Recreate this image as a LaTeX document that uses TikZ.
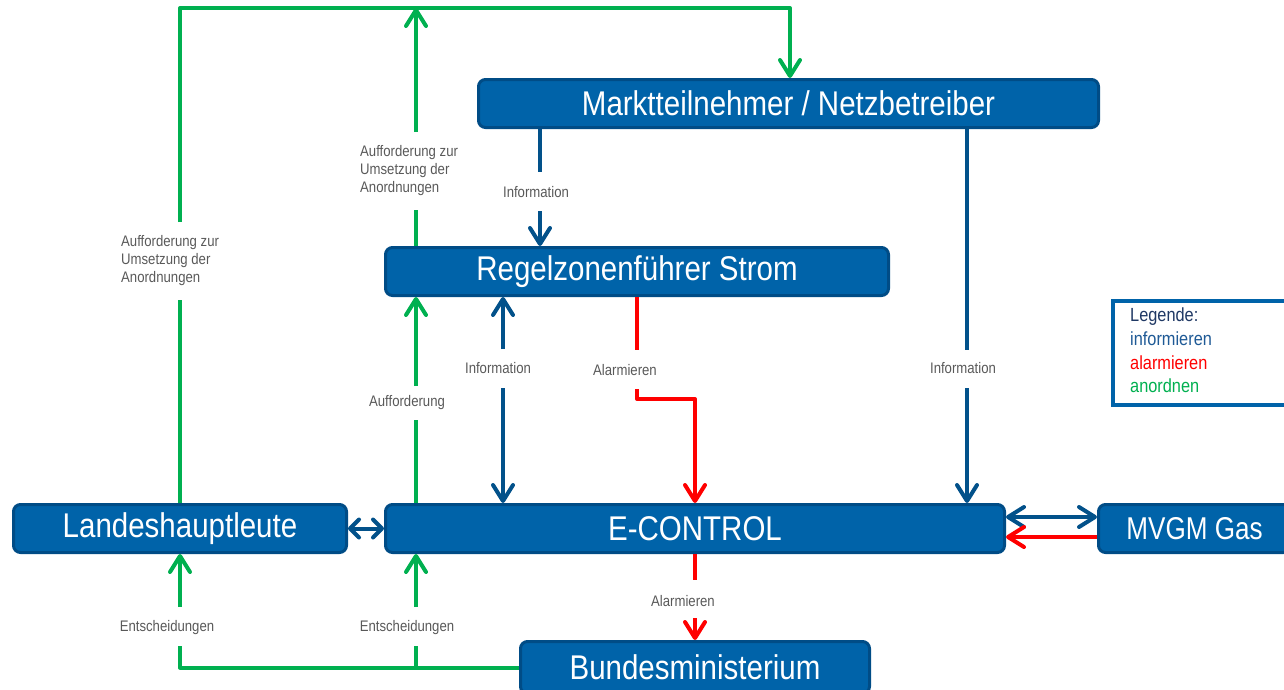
\documentclass[tikz,border=0pt]{standalone}
\usepackage{fontspec}
\setmainfont{Liberation Sans}
\usetikzlibrary{arrows.meta}
\definecolor{boxfill}{HTML}{0063A9}
\definecolor{boxline}{HTML}{004C86}
\definecolor{infoblue}{HTML}{02518A}
\definecolor{alarmred}{HTML}{FF0000}
\definecolor{ordgreen}{HTML}{00B050}
\definecolor{lblgray}{HTML}{595959}
\definecolor{legnavy}{HTML}{1F3864}
\definecolor{leginfo}{HTML}{1F5A96}
\newcommand\sqz[1]{\scalebox{0.86}[1]{#1}}
\newcommand\sqb[1]{\scalebox{0.86}[1]{#1}}
\tikzset{
  box/.style={draw=boxline, line width=3pt, fill=boxfill, rounded corners=7pt,
    minimum height=48pt, inner sep=0pt, text=white, font=\fontsize{34.3}{40}\selectfont},
  lbl/.style={text=lblgray, font=\fontsize{15.3}{18}\selectfont, inner sep=0pt},
  con/.style={line width=4pt, line join=round},
  info/.style={con, draw=infoblue},
  alarm/.style={con, draw=alarmred},
  order/.style={con, draw=ordgreen},
  tip/.style={-{Straight Barb[length=16pt,width=20pt,round]}},
}
\begin{document}
\begin{tikzpicture}[x=1pt,y=-1pt]
\useasboundingbox (0,0) rectangle (1284,689);

% boxes
\node[box, minimum width=620pt] (mt) at (788.5,103.5) {\sqb{Marktteilnehmer / Netzbetreiber}};
\node[box, minimum width=503pt] (rz) at (637,271.5) {\sqb{Regelzonenführer Strom}};
\node[box, minimum width=333pt] (lh) at (180,528.5) {\sqb{Landeshauptleute}};
\node[box, minimum width=619pt] (ec) at (695,528.5) {\sqb{E-CONTROL}};
\node[box, minimum width=192pt] (mv) at (1194.5,528.5) {\scalebox{0.76}[0.92]{MVGM Gas}};
\node[box, minimum width=349pt, minimum height=52pt] (bm) at (695,667.5) {\sqb{Bundesministerium}};

% legend
\node[draw=boxfill, line width=4pt, fill=white, minimum width=184pt, minimum height=104pt,
  anchor=north west, inner sep=0pt] (leg) at (1111,299) {};
\node[anchor=west, inner sep=0pt, font=\fontsize{19}{23.7}\selectfont] (legtxt) at (1130,352.5)
  {\sqz{\begin{tabular}{@{}l@{}}\textcolor{legnavy}{Legende:}\\\textcolor{leginfo}{informieren}\\
  \textcolor{alarmred}{alarmieren}\\\textcolor{ordgreen}{anordnen}\end{tabular}}};

% labels
\node[lbl, anchor=west] (l1) at (360,171) {\sqz{\begin{tabular}{@{}l@{}}Aufforderung zur\\Umsetzung der\\Anordnungen\end{tabular}}};
\node[lbl, anchor=west] (l2) at (121,261) {\sqz{\begin{tabular}{@{}l@{}}Aufforderung zur\\Umsetzung der\\Anordnungen\end{tabular}}};
\node[lbl] (l3) at (536,192) {\sqz{Information}};
\node[lbl] (l4) at (498,368) {\sqz{Information}};
\node[lbl] (l5) at (625,370) {\sqz{Alarmieren}};
\node[lbl] (l6) at (407,403) {\sqz{Aufforderung}};
\node[lbl] (l7) at (963,368) {\sqz{Information}};
\node[lbl] (l8) at (683,601) {\sqz{Alarmieren}};
\node[lbl] (l9) at (167,628) {\sqz{Entscheidungen}};
\node[lbl] (l10) at (407,628) {\sqz{Entscheidungen}};

% helper coordinates
\coordinate (cA) at (180,8);
\coordinate (cB) at (790,8);
\coordinate (g1a) at (180,300); \coordinate (g1b) at (180,222);
\coordinate (g2a) at (416,210); \coordinate (g2b) at (416,132);
\coordinate (i1a) at (540,172); \coordinate (i1b) at (540,211);
\coordinate (i2a) at (503,349); \coordinate (i2b) at (503,388);
\coordinate (a1a) at (637,350); \coordinate (a1b) at (637,389); \coordinate (a1c) at (695,399);
\coordinate (o3a) at (416,420); \coordinate (o3b) at (416,386);
\coordinate (i3a) at (967,350); \coordinate (i3b) at (967,388);
\coordinate (e1a) at (180,646); \coordinate (e1b) at (180,607);
\coordinate (e2a) at (416,646); \coordinate (e2b) at (416,607);
\coordinate (a2a) at (695,580); \coordinate (a2b) at (695,618);

% green top
\draw[order] (lh.north) -- (g1a);
\draw[order,tip] (g1b) -- (cA) -- (cB) -- (mt.north -| cB);
\draw[order] (rz.north -| g2a) -- (g2a);
\draw[order,tip] (g2b) -- (cA -| g2b);

% information Markt -> Regelzone
\draw[info] (mt.south -| i1a) -- (i1a);
\draw[info,tip] (i1b) -- (rz.north -| i1b);

% information Regelzone <-> E-Control
\draw[info,tip] (i2a) -- (rz.south -| i2a);
\draw[info,tip] (i2b) -- (ec.north -| i2b);

% alarm Regelzone -> E-Control
\draw[alarm] (rz.south -| a1a) -- (a1a);
\draw[alarm,tip] (a1b) |- (a1c) -- (ec.north -| a1c);

% Aufforderung E-Control -> Regelzone
\draw[order] (ec.north -| o3a) -- (o3a);
\draw[order,tip] (o3b) -- (rz.south -| o3b);

% information Markt -> E-Control
\draw[info] (mt.south -| i3a) -- (i3a);
\draw[info,tip] (i3b) -- (ec.north -| i3b);

% Bundesministerium Entscheidungen
\draw[order] (bm.west) -- (bm.west -| e1a) -- (e1a);
\draw[order] (bm.west -| e2a) -- (e2a);
\draw[order,tip] (e1b) -- (lh.south -| e1b);
\draw[order,tip] (e2b) -- (ec.south -| e2b);

% alarm E-Control -> Bundesministerium
\draw[alarm] (ec.south -| a2a) -- (a2a);
\draw[alarm,tip] (a2b) -- (bm.north -| a2b);

% Landeshauptleute <-> E-Control
\draw[info, line width=4pt, {Straight Barb[length=9pt,width=18pt,round]}-{Straight Barb[length=9pt,width=18pt,round]}] (lh.east) -- (ec.west);

% E-Control <-> MVGM
\draw[info, {Straight Barb[length=16pt,width=20pt,round]}-{Straight Barb[length=16pt,width=20pt,round]}]
  ([yshift=11.5pt]ec.east) -- ([yshift=11.5pt]mv.west);
\draw[alarm,tip] ([yshift=-8.5pt]mv.west) -- ([yshift=-8.5pt]ec.east);
\end{tikzpicture}
\end{document}
